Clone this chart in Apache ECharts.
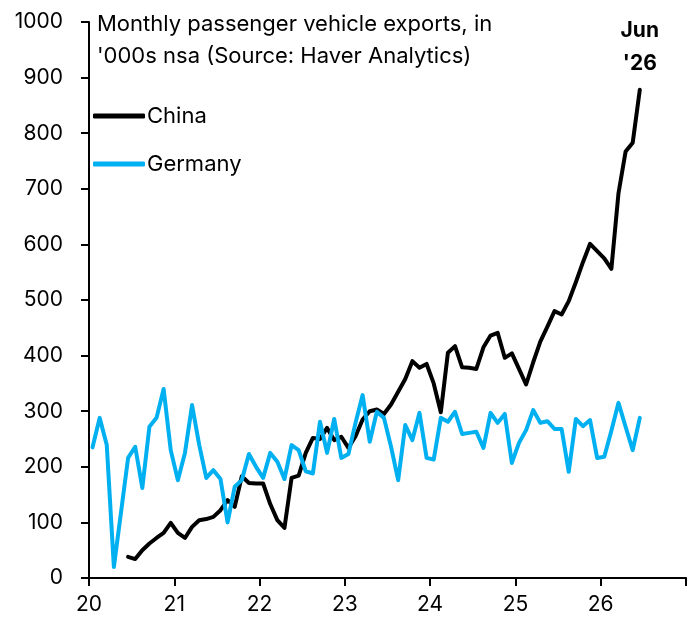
<!DOCTYPE html>
<html>
<head>
<meta charset="utf-8">
<script src="https://cdn.jsdelivr.net/npm/echarts@6/dist/echarts.min.js"></script>
<style>
  html, body { margin: 0; padding: 0; background: #fff; }
  #chart { width: 696px; height: 632px; }
</style>
</head>
<body>
<div id="chart"></div>
<script>
// monthly, '000s nsa
const chinaStart = { year: 2020, month: 6 }   // Jun 2020
const china = [
  38, 34, 50, 62, 72, 81, 99,
  81, 72, 92, 104, 106, 110, 122, 140, 128, 183, 171, 170,
  170, 133, 104, 90, 180, 184, 225, 252, 250, 270, 248, 254,
  234, 255, 285, 300, 303, 295, 312, 335, 358, 390, 378, 385,
  350, 298, 405, 417, 379, 378, 376, 415, 436, 441, 396, 404,
  376, 348, 388, 425, 452, 480, 474, 498, 532, 568, 601, 588,
  575, 556, 692, 767, 783, 878
]

const germanyStart = { year: 2020, month: 1 } // Jan 2020
const germany = [
  235, 288, 239, 20, 118, 216, 236, 162, 272, 288, 340, 230,
  176, 225, 311, 240, 180, 194, 178, 100, 164, 176, 223, 200,
  180, 225, 209, 178, 239, 230, 192, 188, 281, 225, 286, 216,
  223, 279, 329, 245, 299, 288, 236, 176, 275, 248, 297, 216,
  213, 288, 281, 299, 259, 261, 263, 234, 297, 279, 295, 207,
  243, 266, 302, 279, 282, 268, 268, 191, 286, 273, 284, 216,
  218, 265, 315, 272, 230, 288
]

const seriesNames = ['China', 'Germany']
const yTicks = [0, 100, 200, 300, 400, 500, 600, 700, 800, 900, 1000]
const xYears = [2020, 2021, 2022, 2023, 2024, 2025, 2026, 2027]
const lastLabel = "Jun\n'26"

const titleText = "Monthly passenger vehicle exports, in\n'000s nsa (Source: Haver Analytics)"
const FONT = 'Inter'

// points sit mid-month on a year axis
const toPoints = (start, values) =>
  values.map((v, i) => [start.year + (start.month - 1 + i + 0.5) / 12, v])

const chinaPts = toPoints(chinaStart, china)
const germanyPts = toPoints(germanyStart, germany)
const lastChina = chinaPts[chinaPts.length - 1]

const chart = echarts.init(document.getElementById('chart'))

chart.setOption({
  animation: false,
  textStyle: { fontFamily: FONT, color: '#000' },
  title: {
    text: titleText,
    left: 92,
    top: 3,
    textStyle: { fontFamily: FONT, fontSize: 22, fontWeight: 'normal', color: '#000', lineHeight: 32 }
  },
  legend: {
    orient: 'vertical',
    left: 88,
    top: 100,
    itemWidth: 52,
    itemHeight: 5,
    itemGap: 26,
    icon: 'roundRect',
    data: seriesNames,
    textStyle: { fontFamily: FONT, fontSize: 22, color: '#000', padding: [0, 0, 0, -3] }
  },
  grid: { left: 89, right: 10, top: 22, bottom: 54 },
  xAxis: {
    type: 'value',
    min: xYears[0],
    max: xYears[xYears.length - 1],
    interval: 1,
    axisLine: { lineStyle: { color: '#000', width: 2 } },
    axisTick: { show: true, length: 8, lineStyle: { color: '#000', width: 2 } },
    axisLabel: {
      color: '#000',
      fontSize: 21,
      margin: 16,
      formatter: v => (v < xYears[xYears.length - 1] ? String(v - 2000) : '')
    },
    splitLine: { show: false }
  },
  yAxis: {
    type: 'value',
    min: yTicks[0],
    max: yTicks[yTicks.length - 1],
    interval: 100,
    axisLine: { show: true, lineStyle: { color: '#000', width: 2 } },
    axisTick: { show: true, length: 8, lineStyle: { color: '#000', width: 2 } },
    axisLabel: { color: '#000', fontSize: 21, margin: 26, formatter: v => String(v) },
    splitLine: { show: false }
  },
  series: [
    {
      name: seriesNames[0],
      type: 'line',
      data: chinaPts,
      showSymbol: false,
      color: '#000000',
      lineStyle: { width: 4, color: '#000000', cap: 'round', join: 'round' },
      markPoint: {
        symbol: 'circle',
        symbolSize: 0,
        data: [{ coord: lastChina }],
        label: {
          show: true,
          position: 'top',
          distance: 10,
          formatter: lastLabel,
          fontFamily: FONT,
          fontSize: 21,
          fontWeight: 'bold',
          lineHeight: 33,
          color: '#000'
        }
      }
    },
    {
      name: seriesNames[1],
      type: 'line',
      data: germanyPts,
      showSymbol: false,
      color: '#00B0F0',
      lineStyle: { width: 4, color: '#00B0F0', cap: 'round', join: 'round' }
    }
  ]
})
</script>
</body>
</html>
